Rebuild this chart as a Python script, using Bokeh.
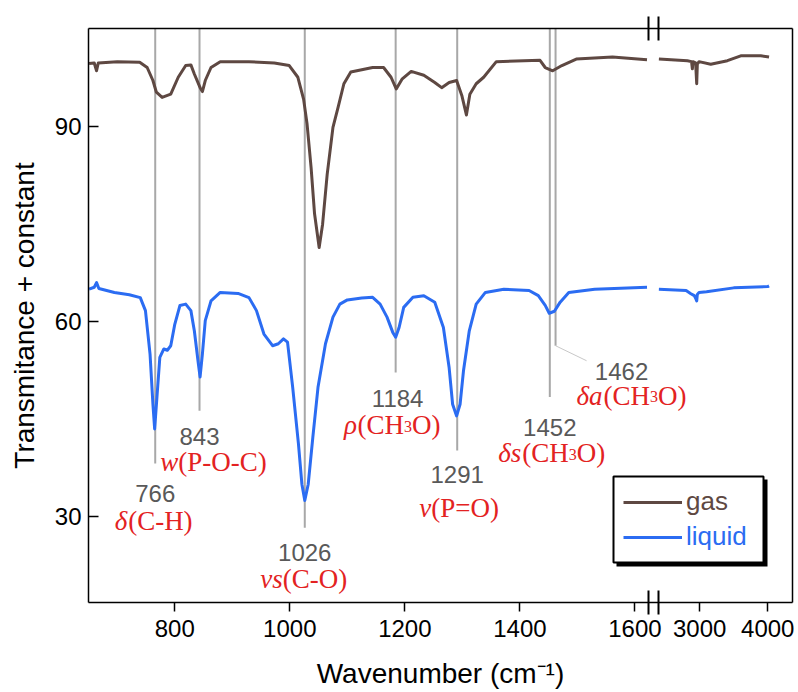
import numpy as np
from bokeh.plotting import figure
from bokeh.models import (FixedTicker, Range1d, LinearAxis, Legend, LegendItem, BoxAnnotation)
from bokeh.core.properties import value
from bokeh.embed import file_html
from bokeh.resources import INLINE

# ---------------- data ----------------
gas_lo_wn = [651, 660, 664, 667, 700, 739, 752, 762, 768, 778, 793, 806, 819, 828, 834, 844,
             848, 853, 863, 879, 929, 973, 999, 1014, 1024, 1030, 1037, 1043, 1051, 1057,
             1065, 1075, 1084, 1094, 1106, 1144, 1163, 1176, 1185, 1195, 1211, 1233, 1252,
             1264, 1277, 1290, 1299, 1307, 1313, 1324, 1337, 1359, 1435, 1444, 1457, 1473,
             1498, 1561, 1621]
gas_lo_t = [99.7, 99.8, 98.6, 99.8, 100.0, 99.9, 99.1, 97.1, 95.3, 94.5, 95.0, 97.6, 99.4,
            99.5, 98.1, 96.0, 95.4, 97.1, 99.1, 100.0, 100.0, 99.8, 99.4, 97.6, 94.2, 90.4,
            83.7, 76.6, 71.4, 75.0, 82.7, 89.9, 93.0, 96.6, 98.4, 99.1, 99.1, 97.6, 95.8,
            97.3, 98.5, 97.9, 96.8, 96.0, 96.8, 97.1, 94.8, 91.8, 95.0, 96.6, 97.6, 100.0,
            100.2, 99.1, 98.6, 99.4, 100.4, 100.7, 100.3]
gas_hi_wn = [2400, 2819, 2880, 2892, 2900, 2940, 2956, 2965, 2990, 3162, 3407, 3603, 3897, 4019]
gas_hi_t = [100.4, 100.15, 100.0, 98.9, 100.0, 99.8, 96.6, 99.6, 100.0, 99.6, 100.15, 100.9,
            100.9, 100.7]

liq_lo_wn = [651, 660, 664, 668, 695, 721, 740, 749, 757, 762, 765, 769, 774, 781, 787, 793,
             800, 809, 819, 828, 834, 841, 844, 848, 853, 863, 879, 910, 929, 942, 955, 970,
             980, 989, 996, 1005, 1015, 1021, 1026, 1032, 1040, 1049, 1062, 1075, 1087, 1100,
             1125, 1144, 1157, 1169, 1179, 1184, 1190, 1198, 1214, 1233, 1252, 1267, 1277,
             1283, 1290, 1296, 1302, 1312, 1324, 1340, 1372, 1416, 1432, 1444, 1451, 1460,
             1470, 1485, 1530, 1621]
liq_lo_t = [65.0, 65.3, 66.0, 65.1, 64.5, 64.15, 63.7, 61.7, 55.0, 47.3, 43.5, 48.4, 54.5,
            55.8, 55.6, 56.3, 59.6, 62.5, 62.7, 61.7, 58.6, 53.5, 51.5, 55.0, 60.15, 63.2,
            64.5, 64.35, 63.7, 61.7, 58.1, 56.3, 56.6, 57.35, 56.85, 49.9, 41.2, 35.0, 32.5,
            35.0, 42.2, 49.9, 56.6, 60.7, 62.7, 63.35, 63.65, 63.75, 62.7, 60.7, 58.35, 57.6,
            59.1, 62.2, 63.75, 64.0, 63.0, 59.1, 52.9, 47.3, 45.5, 47.3, 52.5, 58.6, 62.7,
            64.5, 65.0, 64.8, 64.0, 62.5, 61.3, 61.6, 63.0, 64.5, 65.0, 65.3]
liq_hi_wn = [2400, 2800, 2870, 2920, 2940, 2956, 2965, 2990, 3100, 3500, 4000, 4019]
liq_hi_t = [65.0, 64.8, 64.3, 64.0, 63.6, 63.2, 64.2, 64.5, 64.6, 65.2, 65.4, 65.5]

peak_wn = [766, 843, 1026, 1184, 1291, 1452, 1462]
peak_end = [38.2, 46.3, 28.3, 52.2, 40.2, 48.4, 56.3]
peak_names = [
    [("δ", "i"), ("(C-H)", "n")],
    [("w", "i"), ("(P-O-C)", "n")],
    [("vs", "i"), ("(C-O)", "n")],
    [("ρ", "i"), ("(CH", "n"), ("3", "s"), ("O)", "n")],
    [("v", "i"), ("(P=O)", "n")],
    [("δs", "i"), ("(CH", "n"), ("3", "s"), ("O)", "n")],
    [("δa", "i"), ("(CH", "n"), ("3", "s"), ("O)", "n")],
]

x_tick_wn = [800, 1000, 1200, 1400, 1600, 3000, 4000]
y_ticks = [30, 60, 90]
series_names = ["gas", "liquid"]

# ---------------- layout / broken-axis mapping ----------------
X0 = 650.0
Y0, Y1 = 16.8, 105.1
BL, BT, BR = 88, 28, 2            # borders (px)
FRAME_W, FRAME_H = 704, 574
FIG_W, FIG_H = BL + FRAME_W + BR, 692
PXU = 0.5752                      # px per cm-1 in the low segment
X1 = X0 + FRAME_W / PXU
PXV = FRAME_H / (Y1 - Y0)
HI_ANCHOR = 1712.6      # plot coordinate of 3000 cm-1
HI_SCALE = 0.1183       # compression of the high-wavenumber segment
BREAK_U = 1632.5


def to_u(w):
    return float(w) if w < 2000 else round(HI_ANCHOR + (w - 3000) * HI_SCALE, 3)


def fx(px):   # px from frame left -> data
    return X0 + px / PXU


def fy(px):   # px from frame top -> data
    return Y1 - px / PXV


GAS = "#5E4842"
LIQ = "#2B6CF2"
RED = "#E32222"
NUM = "#595959"
VLINE = "#A8A8A8"

p = figure(width=FIG_W, height=FIG_H, x_range=Range1d(X0, X1), y_range=Range1d(Y0, Y1),
           output_backend="svg", toolbar_location=None,
           min_border_left=BL, min_border_right=BR, min_border_top=BT,
           min_border_bottom=FIG_H - BT - FRAME_H)
p.outline_line_color = None
p.xgrid.visible = False
p.ygrid.visible = False
p.background_fill_color = "white"
p.border_fill_color = "white"

# axis-break marks are drawn as crossing minor ticks on the bottom and top axes
break_marks = [round(BREAK_U - 5.25 / PXU, 3), round(BREAK_U + 5.25 / PXU, 3)]

# axes
tick_u = [to_u(w) for w in x_tick_wn]
xa = p.xaxis[0]
xa.ticker = FixedTicker(ticks=tick_u, minor_ticks=break_marks)
xa.major_label_overrides = {u: str(w) for u, w in zip(tick_u, x_tick_wn)}
xa.major_tick_out = 9
xa.major_tick_in = 0
xa.minor_tick_in = 12
xa.minor_tick_out = 12
xa.minor_tick_line_color = "black"
xa.minor_tick_line_width = 2
xa.axis_line_width = 1.5
xa.major_tick_line_width = 1.5
xa.major_label_standoff = 5
xa.major_label_text_font = "Liberation Sans"
xa.major_label_text_font_size = "24px"
xa.major_label_text_color = "black"
xa.axis_label = "Wavenumber (cm⁻¹)"
xa.axis_label_text_font = "Liberation Sans"
xa.axis_label_text_font_size = "28px"
xa.axis_label_text_font_style = "normal"
xa.axis_label_text_color = "black"
xa.axis_label_standoff = 18

ya = p.yaxis[0]
ya.ticker = FixedTicker(ticks=y_ticks, minor_ticks=[])
ya.major_tick_in = 10
ya.major_tick_out = 0
ya.minor_tick_line_color = None
ya.axis_line_width = 1.5
ya.major_tick_line_width = 1.5
ya.major_label_standoff = 7
ya.major_label_text_font = "Liberation Sans"
ya.major_label_text_font_size = "24px"
ya.major_label_text_color = "black"
ya.axis_label = "Transmitance + constant"
ya.axis_label_text_font = "Liberation Sans"
ya.axis_label_text_font_size = "28px"
ya.axis_label_text_font_style = "normal"
ya.axis_label_text_color = "black"
ya.axis_label_standoff = 12

top_ax = LinearAxis(ticker=FixedTicker(ticks=[], minor_ticks=break_marks), axis_line_width=1.5,
                    major_tick_line_color=None, minor_tick_line_color="black",
                    minor_tick_line_width=2, minor_tick_in=12, minor_tick_out=12,
                    major_label_text_font_size="0px")
p.add_layout(top_ax, "above")
right_ax = LinearAxis(ticker=FixedTicker(ticks=[], minor_ticks=[]), axis_line_width=1.5,
                      major_tick_line_color=None, minor_tick_line_color=None,
                      major_label_text_font_size="0px")
p.add_layout(right_ax, "right")

# vertical assignment lines
p.segment(x0=[to_u(w) for w in peak_wn], y0=[Y1] * len(peak_wn),
          x1=[to_u(w) for w in peak_wn], y1=peak_end, line_color=VLINE, line_width=2)
# leader for 1462
i62 = peak_wn.index(1462)
p.segment(x0=[to_u(1462)], y0=[peak_end[i62]], x1=[to_u(1462) + 31 / PXU],
          y1=[peak_end[i62] - 15 / PXV], line_color="#C8C8C8", line_width=1)

# spectra (NaN separates the two axis segments)
gas_u = np.array([to_u(w) for w in gas_lo_wn] + [np.nan] + [to_u(w) for w in gas_hi_wn])
gas_y = np.array(gas_lo_t + [np.nan] + gas_hi_t)
liq_u = np.array([to_u(w) for w in liq_lo_wn] + [np.nan] + [to_u(w) for w in liq_hi_wn])
liq_y = np.array(liq_lo_t + [np.nan] + liq_hi_t)
gas_r = p.line(gas_u, gas_y, line_color=GAS, line_width=3, line_join="round")
liq_r = p.line(liq_u, liq_y, line_color=LIQ, line_width=3, line_join="round")

# ---- annotation texts ----
# per-peak placement (px): number dx, number dy below line end, label dx, label dy below number
num_dx = [0, 0, 0, 2, 0, 0, 66]
num_dy = [22, 17, 16, 18, 16, 22, 17]
lab_dx = [-1.6, 14, -1, -3.4, 2, 2, 76]
lab_dy = [28, 26, 27, 27, 34, 26, 25]

LAB_FS = 27
SUB_FS = 16
W_N = {"(": 0.333, ")": 0.333, "C": 0.667, "H": 0.722, "P": 0.556, "O": 0.722, "-": 0.333,
       "=": 0.564, "3": 0.5}
W_I = {"w": 0.667, "v": 0.444, "s": 0.389, "a": 0.5, "δ": 0.5, "ρ": 0.5}


def piece_width(txt, kind):
    if kind == "s":
        return sum(W_N.get(c, 0.5) for c in txt) * SUB_FS
    table = W_I if kind == "i" else W_N
    return sum(table.get(c, 0.5) for c in txt) * LAB_FS


groups = {k: dict(x=[], y=[], text=[], xo=[], yo=[]) for k in ("n", "i", "s")}
nums = dict(x=[], y=[], text=[], xo=[], yo=[])
for j, w in enumerate(peak_wn):
    nums["x"].append(to_u(w))
    nums["y"].append(peak_end[j])
    nums["text"].append(str(w))
    nums["xo"].append(num_dx[j])
    nums["yo"].append(num_dy[j] + 8.6)
    total = sum(piece_width(t, k) for t, k in peak_names[j])
    cur = lab_dx[j] - total / 2
    base = num_dy[j] + lab_dy[j] + 8
    for t, k in peak_names[j]:
        g = groups[k]
        g["x"].append(to_u(w))
        g["y"].append(peak_end[j])
        g["text"].append(t)
        g["xo"].append(cur)
        g["yo"].append(base + (1 if k == "s" else 0))
        cur += piece_width(t, k)

p.text(x=nums["x"], y=nums["y"], text=nums["text"], x_offset=nums["xo"], y_offset=nums["yo"],
       text_font=value("Liberation Sans"), text_font_size="24px", text_color=NUM,
       text_align="center", text_baseline="alphabetic")
for k, g in groups.items():
    p.text(x=g["x"], y=g["y"], text=g["text"], x_offset=g["xo"], y_offset=g["yo"],
           text_font=value("Liberation Serif"),
           text_font_size=f"{SUB_FS if k == 's' else LAB_FS}px",
           text_font_style="italic" if k == "i" else "normal",
           text_color=RED, text_align="left", text_baseline="alphabetic")

# ---- legend ----
p.add_layout(BoxAnnotation(left=fx(528), right=fx(679), top=fy(451), bottom=fy(538),
                           fill_color="black", fill_alpha=1, line_color=None))
p.add_layout(BoxAnnotation(left=fx(525), right=fx(675), top=fy(448), bottom=fy(534),
                           fill_color="white", fill_alpha=1, line_color="black",
                           line_width=2, line_alpha=1))
for name, rend, col, loc in ((series_names[0], gas_r, GAS, (535, 85)),
                             (series_names[1], liq_r, LIQ, (535, 50))):
    lg = Legend(items=[LegendItem(label=name, renderers=[rend])], location=loc,
                glyph_width=59, glyph_height=30, label_height=30, label_standoff=4,
                padding=0, margin=0, spacing=0, border_line_color=None,
                background_fill_alpha=0, label_text_font="Liberation Sans",
                label_text_font_size="26px", label_text_color=col)
    p.add_layout(lg)

open("out.html", "w").write(file_html(p, INLINE))
